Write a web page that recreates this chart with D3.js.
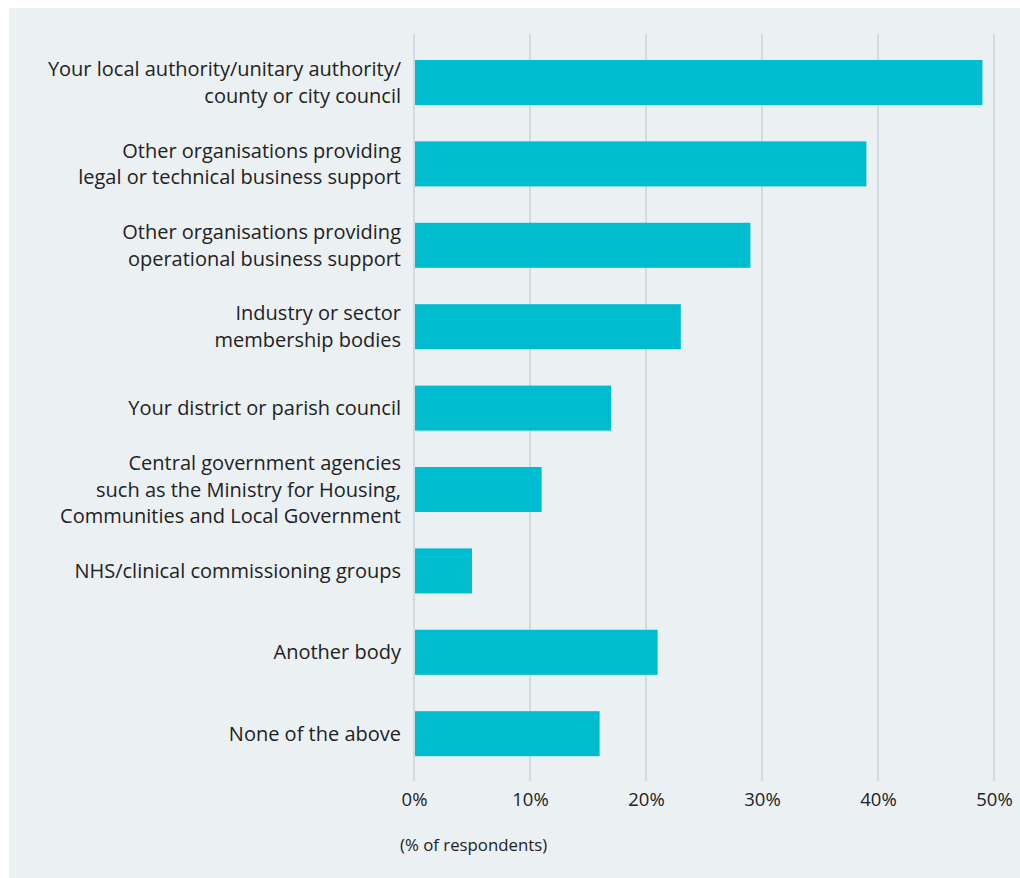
<!DOCTYPE html>
<html><head><meta charset="utf-8">
<script src="https://cdn.jsdelivr.net/npm/d3@7"></script>
<style>
html,body{margin:0;padding:0;background:#fff;}
svg{display:block;}
</style></head>
<body>
<svg id="c" width="1020" height="878"></svg>
<script>
const categories = [
  ["Your local authority/unitary authority/", "county or city council"],
  ["Other organisations providing", "legal or technical business support"],
  ["Other organisations providing", "operational business support"],
  ["Industry or sector", "membership bodies"],
  ["Your district or parish council"],
  ["Central government agencies", "such as the Ministry for Housing,", "Communities and Local Government"],
  ["NHS/clinical commissioning groups"],
  ["Another body"],
  ["None of the above"]
];
const values = [49, 39, 29, 23, 17, 11, 5, 21, 16];
const tickValues = [0, 10, 20, 30, 40, 50];
const axisTitle = "(% of respondents)";

const svg = d3.select("#c");
svg.append("rect").attr("x", 9).attr("y", 8).attr("width", 1011).attr("height", 870).attr("fill", "#ebf0f3");

const x = d3.scaleLinear().domain([0, 50]).range([414, 994]);
const y = d3.scaleBand().domain(d3.range(categories.length)).range([41.8, 774.4]).paddingInner(0.447).paddingOuter(0.2235);

// gridlines
svg.append("g").selectAll("line").data(tickValues).join("line")
  .attr("x1", d => x(d)).attr("x2", d => x(d))
  .attr("y1", 34).attr("y2", 781)
  .attr("stroke", "#c6d4dd").attr("stroke-width", 1.5);

// bars
svg.append("g").selectAll("rect").data(values).join("rect")
  .attr("x", x(0) + 1).attr("y", (d, i) => y(i))
  .attr("width", d => x(d) - x(0) - 1).attr("height", y.bandwidth())
  .attr("fill", "#00bccf");

// category labels
const lh = 26.5;
const lab = svg.append("g").attr("font-family", "'Open Sans', sans-serif").attr("font-size", 20).attr("fill", "#222");
categories.forEach((lines, i) => {
  const cy = y(i) + y.bandwidth() / 2;
  const t = lab.append("text").attr("text-anchor", "end");
  lines.forEach((ln, j) => {
    t.append("tspan").attr("x", 401).attr("y", cy + (j - (lines.length - 1) / 2) * lh).attr("dy", "0.35em").text(ln);
  });
});

// axis
const axis = d3.axisBottom(x).tickValues(tickValues).tickFormat(d => d + "%").tickSize(0).tickPadding(0);
const ag = svg.append("g").attr("transform", "translate(0,800)").call(axis);
ag.select(".domain").remove();
ag.selectAll("text").attr("font-family", "'Open Sans', sans-serif").attr("font-size", 18.5).attr("fill", "#222").attr("dy", "0.35em");

svg.append("text").attr("x", 400).attr("y", 845).attr("dy", "0.35em")
  .attr("font-family", "'Open Sans', sans-serif").attr("font-size", 16.8).attr("fill", "#222").text(axisTitle);
</script>
</body></html>
